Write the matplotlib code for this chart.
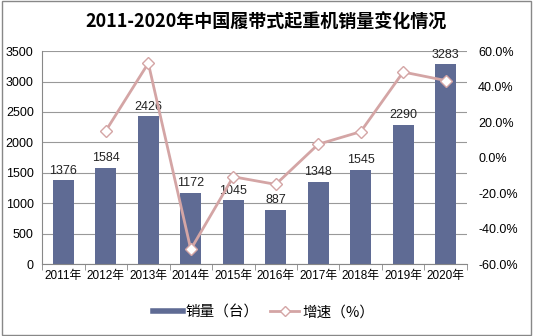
import numpy as np
import matplotlib.pyplot as plt
from matplotlib.patches import Rectangle
from matplotlib.lines import Line2D

plt.rcParams['font.family'] = ['Liberation Sans', 'Noto Sans CJK SC']

years = ['2011年', '2012年', '2013年', '2014年', '2015年', '2016年', '2017年', '2018年', '2019年', '2020年']
sales = [1376, 1584, 2426, 1172, 1045, 887, 1348, 1545, 2290, 3283]
# growth rate (%), no value for 2011
growth = [np.nan, 15.1, 53.2, -51.7, -10.8, -15.1, 7.5, 14.6, 48.2, 43.4]

bar_color = '#5f6b94'
line_color = '#d4a5a5'

fig = plt.figure(figsize=(5.33, 3.36), dpi=100)
ax = fig.add_axes([0.079, 0.214, 0.797, 0.634])
x = np.arange(len(years))

ax.bar(x, sales, width=0.5, color=bar_color, zorder=2)
for xi, v in zip(x, sales):
    ax.text(xi, v + 60, str(v), ha='center', va='bottom', fontsize=9, color='#222222')

ax.set_ylim(0, 3500)
ax.set_yticks(np.arange(0, 3501, 500))
ax.set_xlim(-0.5, len(years) - 0.5)
ax.set_xticks(x)
ax.set_xticklabels(years, fontsize=8.5)
ax.tick_params(axis='y', labelsize=9, length=0, pad=6)
ax.tick_params(axis='x', length=0, pad=4)
ax.set_xticks(np.arange(-0.5, len(years), 1), minor=True)
ax.tick_params(axis='x', which='minor', length=4, color='#888888')
ax.grid(axis='y', color='#999999', linewidth=0.8, zorder=0)
for s in ['top', 'right']:
    ax.spines[s].set_visible(False)
ax.spines['left'].set_color('#888888')
ax.spines['bottom'].set_color('#888888')

ax2 = ax.twinx()
ax2.plot(x, growth, color=line_color, linewidth=2, marker='D', markersize=6,
         markerfacecolor='white', markeredgecolor=line_color, zorder=3)
ax2.set_ylim(-60, 60)
ax2.set_yticks(np.arange(-60, 61, 20))
ax2.set_yticklabels(['%.1f%%' % v for v in np.arange(-60, 61, 20)])
ax2.tick_params(axis='y', labelsize=9, length=0, pad=8)
for s in ['top', 'right', 'left', 'bottom']:
    ax2.spines[s].set_visible(False)

fig.text(0.5, 0.935, '2011-2020年中国履带式起重机销量变化情况', ha='center', va='center',
         fontsize=13, fontweight='bold', family=['Noto Sans CJK SC'])

h_bar = Line2D([], [], color=bar_color, linewidth=4)
h_line = Line2D([], [], color=line_color, linewidth=2, marker='D', markersize=5,
                markerfacecolor='white', markeredgecolor=line_color)
fig.legend(handles=[h_bar, h_line], labels=['销量（台）', '增速（%）'], loc='center',
           bbox_to_anchor=(0.495, 0.07), ncol=2, frameon=False, handlelength=2.0,
           handletextpad=0.2, columnspacing=0.8,
           prop={'family': ['Noto Sans CJK SC'], 'size': 10.5})

fig.patches.append(Rectangle((0.003, 0.003), 0.994, 0.994, transform=fig.transFigure,
                             fill=False, edgecolor='#888888', linewidth=1))

fig.savefig('out.png', dpi=100)
